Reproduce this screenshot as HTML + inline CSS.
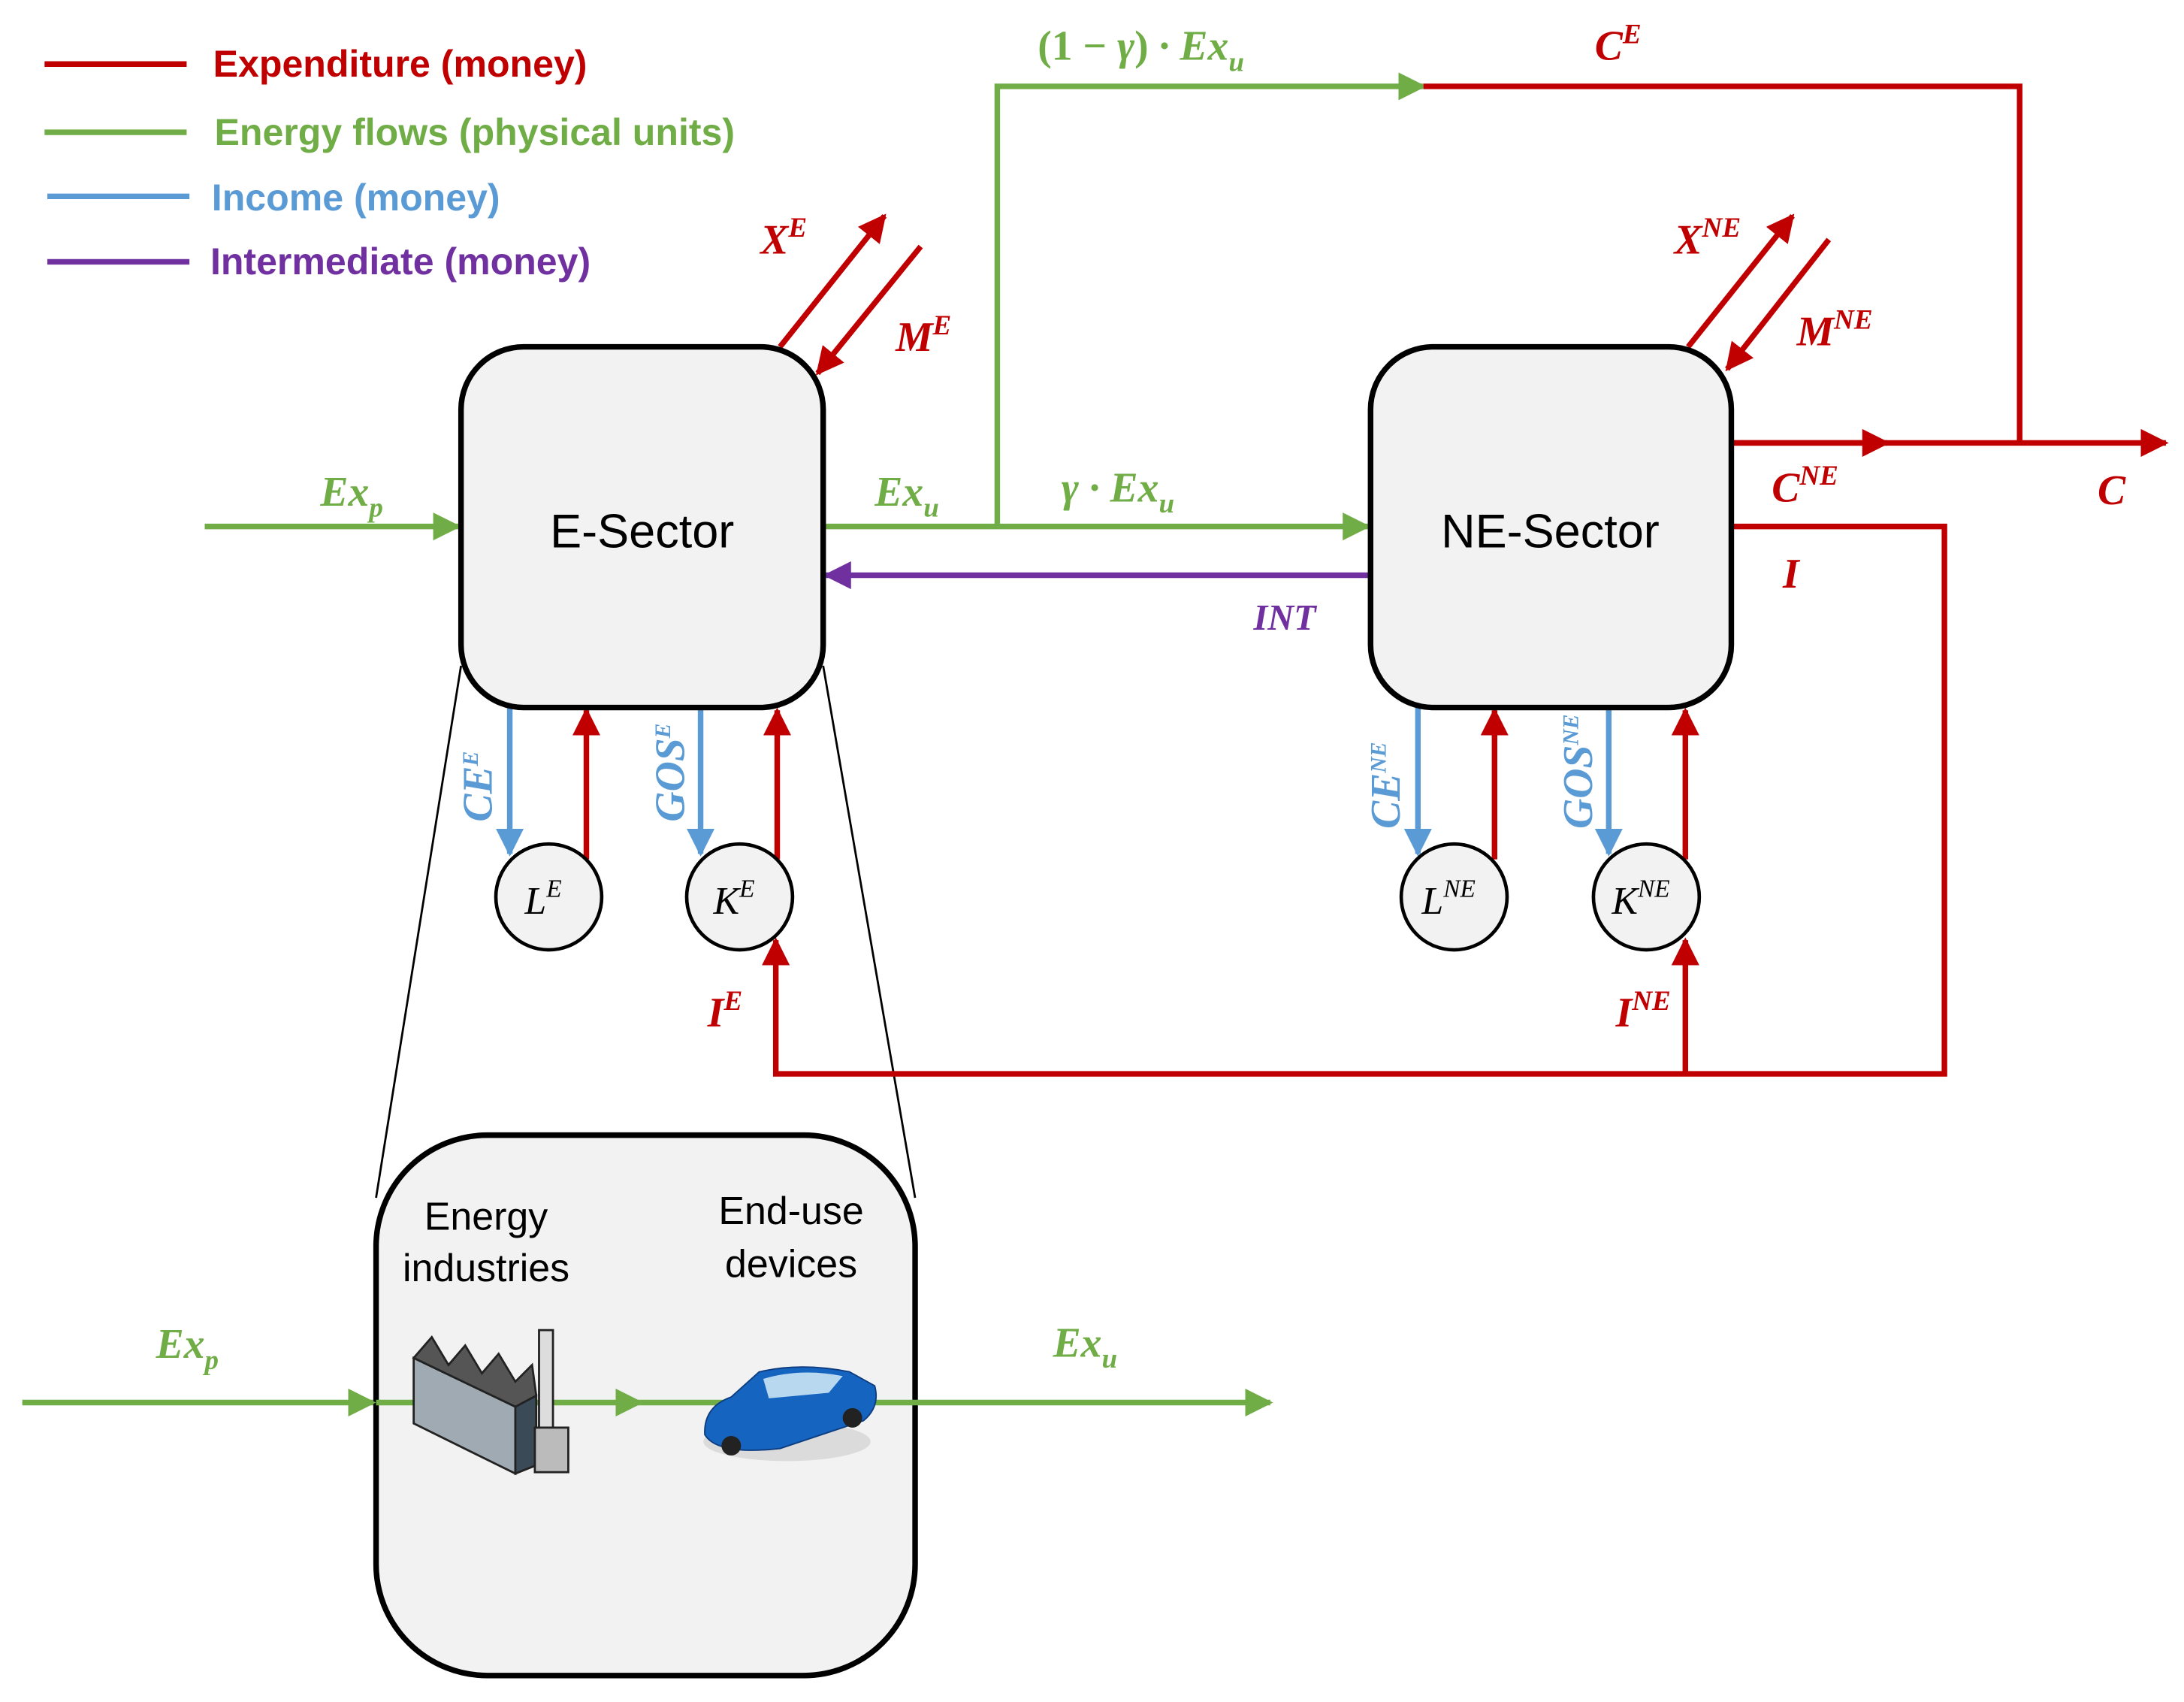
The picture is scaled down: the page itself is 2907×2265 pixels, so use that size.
<!DOCTYPE html>
<html><head><meta charset="utf-8"><style>
html,body{margin:0;padding:0;background:#fff}
svg{display:block}
.m{font-family:"Liberation Serif",serif;font-style:italic;font-weight:bold;font-size:30px}
.s{font-family:"Liberation Sans",sans-serif}
</style></head><body>
<svg width="2907" height="2265" viewBox="0 0 1568 1222" preserveAspectRatio="none" xmlns="http://www.w3.org/2000/svg">
<defs>
<marker id="ar" viewBox="0 0 10 10" refX="9" refY="5" markerWidth="5" markerHeight="5" orient="auto-start-reverse"><path d="M0,0L10,5L0,10z" fill="#C00000"/></marker>
<marker id="ag" viewBox="0 0 10 10" refX="9" refY="5" markerWidth="5" markerHeight="5" orient="auto"><path d="M0,0L10,5L0,10z" fill="#70AD47"/></marker>
<marker id="ab" viewBox="0 0 10 10" refX="9" refY="5" markerWidth="5" markerHeight="5" orient="auto"><path d="M0,0L10,5L0,10z" fill="#5B9BD5"/></marker>
<marker id="ap" viewBox="0 0 10 10" refX="9" refY="5" markerWidth="5" markerHeight="5" orient="auto"><path d="M0,0L10,5L0,10z" fill="#7030A0"/></marker>
</defs>
<g stroke-width="4">
<line x1="32" y1="46" x2="134" y2="46" stroke="#C00000"/>
<line x1="32" y1="95" x2="134" y2="95" stroke="#70AD47"/>
<line x1="34" y1="141" x2="136" y2="141" stroke="#5B9BD5"/>
<line x1="34" y1="188" x2="136" y2="188" stroke="#7030A0"/>
</g>
<g class="s" font-size="27" font-weight="bold">
<text x="153" y="55" fill="#C00000">Expenditure (money)</text>
<text x="154" y="104" fill="#70AD47">Energy flows (physical units)</text>
<text x="152" y="151" fill="#5B9BD5">Income (money)</text>
<text x="151" y="197" fill="#7030A0">Intermediate (money)</text>
</g>
<line x1="331" y1="478" x2="270" y2="860" stroke="#000" stroke-width="1.5"/>
<line x1="591" y1="478" x2="657" y2="860" stroke="#000" stroke-width="1.5"/>
<g fill="none" stroke-width="4">
<line x1="147" y1="378" x2="329" y2="378" stroke="#70AD47" marker-end="url(#ag)"/>
<line x1="591" y1="378" x2="982" y2="378" stroke="#70AD47" marker-end="url(#ag)"/>
<polyline points="716,378 716,62 1022,62" stroke="#70AD47" marker-end="url(#ag)"/>
<polyline points="1022,62 1450,62 1450,318" stroke="#C00000"/>
<line x1="1243" y1="318" x2="1555" y2="318" stroke="#C00000" marker-end="url(#ar)"/>
<line x1="1243" y1="318" x2="1355" y2="318" stroke="#C00000" marker-end="url(#ar)"/>
<line x1="984" y1="413" x2="593" y2="413" stroke="#7030A0" marker-end="url(#ap)"/>
<polyline points="1243,378 1396,378 1396,771 557,771 557,675" stroke="#C00000" marker-end="url(#ar)"/>
<line x1="1210" y1="771" x2="1210" y2="675" stroke="#C00000" marker-end="url(#ar)"/>
<line x1="560" y1="249" x2="635" y2="155" stroke="#C00000" marker-end="url(#ar)"/>
<line x1="661" y1="177" x2="587" y2="268" stroke="#C00000" marker-end="url(#ar)"/>
<line x1="1212" y1="249" x2="1287" y2="155" stroke="#C00000" marker-end="url(#ar)"/>
<line x1="1313" y1="172" x2="1240" y2="265" stroke="#C00000" marker-end="url(#ar)"/>
<line x1="366" y1="508" x2="366" y2="613" stroke="#5B9BD5" marker-end="url(#ab)"/>
<line x1="421" y1="617" x2="421" y2="510" stroke="#C00000" marker-end="url(#ar)"/>
<line x1="503" y1="508" x2="503" y2="613" stroke="#5B9BD5" marker-end="url(#ab)"/>
<line x1="558" y1="617" x2="558" y2="510" stroke="#C00000" marker-end="url(#ar)"/>
<line x1="1018" y1="508" x2="1018" y2="613" stroke="#5B9BD5" marker-end="url(#ab)"/>
<line x1="1073" y1="617" x2="1073" y2="510" stroke="#C00000" marker-end="url(#ar)"/>
<line x1="1155" y1="508" x2="1155" y2="613" stroke="#5B9BD5" marker-end="url(#ab)"/>
<line x1="1210" y1="617" x2="1210" y2="510" stroke="#C00000" marker-end="url(#ar)"/>
</g>
<rect x="331" y="249" width="260" height="259" rx="45" fill="#f2f2f2" stroke="#000" stroke-width="4"/>
<rect x="984" y="249" width="259" height="259" rx="45" fill="#f2f2f2" stroke="#000" stroke-width="4"/>
<text x="461" y="393" class="s" font-size="34" text-anchor="middle">E-Sector</text>
<text x="1113" y="393" class="s" font-size="34" text-anchor="middle">NE-Sector</text>
<g fill="#f2f2f2" stroke="#000" stroke-width="2.5">
<circle cx="394" cy="644" r="38"/><circle cx="531" cy="644" r="38"/>
<circle cx="1044" cy="644" r="38"/><circle cx="1182" cy="644" r="38"/>
</g>
<g font-family="Liberation Serif,serif" font-style="italic" font-size="28" text-anchor="middle">
<text x="390" y="656">L<tspan font-size="18" dy="-12">E</tspan></text>
<text x="527" y="656">K<tspan font-size="18" dy="-12">E</tspan></text>
<text x="1040" y="656">L<tspan font-size="18" dy="-12">NE</tspan></text>
<text x="1178" y="656">K<tspan font-size="18" dy="-12">NE</tspan></text>
</g>
<g class="m">
<text x="230" y="363" fill="#70AD47">Ex<tspan font-size="20" dy="8">p</tspan></text>
<text x="628" y="363" fill="#70AD47">Ex<tspan font-size="20" dy="8">u</tspan></text>
<text x="762" y="360" fill="#70AD47">γ · Ex<tspan font-size="20" dy="8">u</tspan></text>
<text x="745" y="43" fill="#70AD47"><tspan font-style="normal">(1 − </tspan>γ<tspan font-style="normal">)</tspan> · Ex<tspan font-size="20" dy="8">u</tspan></text>
<text x="1145" y="43" fill="#C00000">C<tspan font-size="20" dy="-12">E</tspan></text>
<text x="1272" y="360" fill="#C00000">C<tspan font-size="20" dy="-12">NE</tspan></text>
<text x="1506" y="362" fill="#C00000">C</text>
<text x="1280" y="422" fill="#C00000">I</text>
<text x="900" y="452" fill="#7030A0" font-size="26">INT</text>
<text x="546" y="182" fill="#C00000">X<tspan font-size="20" dy="-12">E</tspan></text>
<text x="643" y="252" fill="#C00000">M<tspan font-size="20" dy="-12">E</tspan></text>
<text x="1202" y="182" fill="#C00000">X<tspan font-size="20" dy="-12">NE</tspan></text>
<text x="1290" y="248" fill="#C00000">M<tspan font-size="20" dy="-12">NE</tspan></text>
<text x="508" y="737" fill="#C00000">I<tspan font-size="20" dy="-12">E</tspan></text>
<text x="1160" y="737" fill="#C00000">I<tspan font-size="20" dy="-12">NE</tspan></text>
<text x="112" y="975" fill="#70AD47">Ex<tspan font-size="20" dy="8">p</tspan></text>
<text x="438" y="974" fill="#70AD47">Ex<tspan font-size="20" dy="8">f</tspan></text>
<text x="756" y="974" fill="#70AD47">Ex<tspan font-size="20" dy="8">u</tspan></text>
</g>
<g class="m" font-size="24">
<text transform="translate(353,590) rotate(-90)" fill="#5B9BD5">CE<tspan font-size="16" dy="-10">E</tspan></text>
<text transform="translate(491,590) rotate(-90)" fill="#5B9BD5">GOS<tspan font-size="16" dy="-10">E</tspan></text>
<text transform="translate(1005,595) rotate(-90)" fill="#5B9BD5">CE<tspan font-size="16" dy="-10">NE</tspan></text>
<text transform="translate(1143,595) rotate(-90)" fill="#5B9BD5">GOS<tspan font-size="16" dy="-10">NE</tspan></text>
</g>
<rect x="270" y="815" width="387" height="388" rx="80" fill="#f2f2f2" stroke="#000" stroke-width="4"/>
<g stroke="#70AD47" stroke-width="4" fill="none">
<line x1="16" y1="1007" x2="268" y2="1007" marker-end="url(#ag)"/>
<line x1="270" y1="1007" x2="460" y2="1007" marker-end="url(#ag)"/>
<line x1="460" y1="1007" x2="912" y2="1007" marker-end="url(#ag)"/>
</g>
<g class="s" font-size="28" text-anchor="middle">
<text x="349" y="883">Energy</text><text x="349" y="920">industries</text>
<text x="568" y="879">End-use</text><text x="568" y="917">devices</text>
</g>
<g stroke="#222" stroke-width="1.5">
<polygon points="297,975 370,1010 370,1058 297,1022" fill="#a0aab2"/>
<polygon points="370,1010 385,1002 385,1052 370,1058" fill="#3a4a56"/>
<polygon points="297,975 310,960 322,980 334,966 346,986 358,972 370,992 382,980 385,1002 370,1010" fill="#555"/>
<rect x="387" y="955" width="10" height="75" fill="#ddd"/>
<rect x="384" y="1025" width="24" height="32" fill="#bbb"/>
</g>
<ellipse cx="565" cy="1035" rx="60" ry="14" fill="#ccc" opacity="0.6"/>
<path d="M506,1030 Q505,1010 525,1003 L545,985 Q575,978 610,985 L628,995 Q632,1010 620,1020 L560,1040 Q515,1045 506,1030z" fill="#1565c0" stroke="#0d3c80"/>
<path d="M548,990 Q575,982 605,988 L595,1000 L552,1004z" fill="#b8d8f0"/>
<circle cx="525" cy="1038" r="7" fill="#222"/><circle cx="612" cy="1018" r="7" fill="#222"/>
</svg>
</body></html>
